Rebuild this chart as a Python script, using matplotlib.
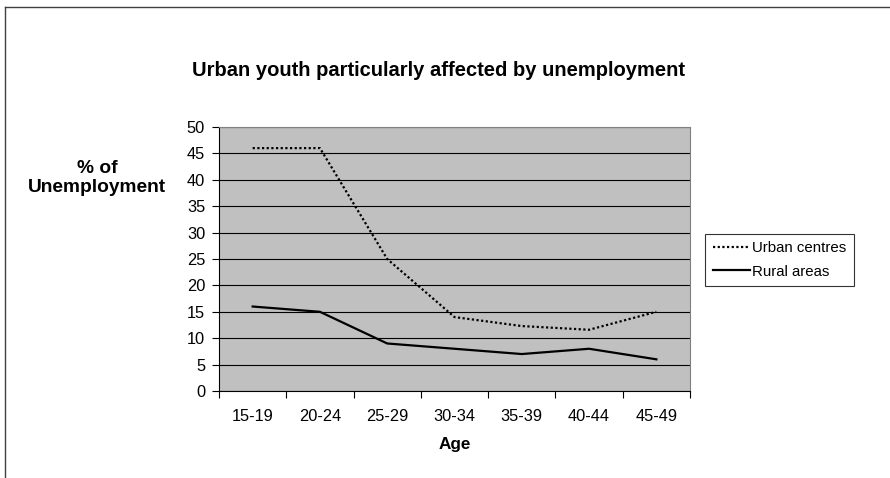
import numpy as np
import matplotlib
matplotlib.use('Agg')
import matplotlib.pyplot as plt
from matplotlib.lines import Line2D

plt.rc('font', family=['Liberation Sans', 'DejaVu Sans'])

ages  = ['15-19', '20-24', '25-29', '30-34', '35-39', '40-44', '45-49']
urban = [46, 46, 25, 14, 12.3, 11.6, 15]
rural = [16, 15, 9, 8, 7, 8, 6]

W, H = 890, 478
fig = plt.figure(figsize=(W/100., H/100.), dpi=100)
ax = fig.add_axes([219./W, 1-391./H, (690.-219)/W, (391.-127)/H])
ax.set_facecolor('#c0c0c0')

x = np.arange(len(ages))
ax.plot(x, urban, color='black', lw=1.6, ls=(0, (1, 1.1)), label='Urban centres')
ax.plot(x, rural, color='black', lw=1.6, label='Rural areas')

ax.set_xlim(-0.5, len(ages)-0.5)
ax.set_ylim(0, 50)
ax.set_yticks(np.arange(0, 51, 5))
ax.set_xticks(x)
ax.set_xticklabels(ages)
ax.set_xticks(np.arange(-0.5, len(ages)), minor=True)
ax.tick_params(axis='x', which='major', length=0, pad=13, labelsize=11.8)
ax.tick_params(axis='x', which='minor', length=5, width=0.8, direction='out')
ax.tick_params(axis='y', length=5, width=0.8, direction='out', labelsize=11.8, pad=5)
ax.yaxis.grid(True, color='black', lw=0.8)
ax.set_axisbelow(True)
for s in ['top', 'right']:
    ax.spines[s].set_color('#808080')
for s in ['left', 'bottom']:
    ax.spines[s].set_color('black')
    ax.spines[s].set_linewidth(0.8)

fig.text(439./W, 1-70./H, 'Urban youth particularly affected by unemployment',
         ha='center', va='center', fontsize=14.5, fontweight='bold')
fig.text(97./W, 1-178./H, '% of\nUnemployment', ha='center', va='center',
         multialignment='center', fontsize=13.8, fontweight='bold', linespacing=1.15)
fig.text(455./W, 1-444./H, 'Age', ha='center', va='center', fontsize=12.3, fontweight='bold')

leg = fig.legend(loc='center left', bbox_to_anchor=(705./W, 1-260./H), fontsize=10.8,
                 frameon=True, fancybox=False, edgecolor='black', handlelength=2.5,
                 handletextpad=0.15, borderpad=0.5, labelspacing=0.6, borderaxespad=0)
leg.get_frame().set_linewidth(0.8)

# page border (top and left edges only)
fig.add_artist(Line2D([5./W, 1], [1-7./H, 1-7./H], color='#404040', lw=1))
fig.add_artist(Line2D([5./W, 5./W], [0, 1-7./H], color='#404040', lw=1))

fig.savefig('out.png', dpi=100)
